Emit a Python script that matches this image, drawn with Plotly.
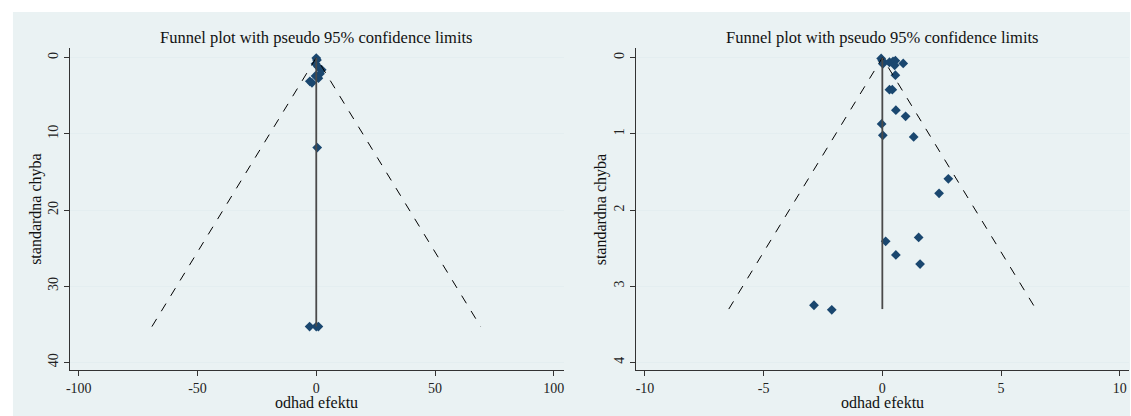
import plotly.graph_objects as go

# ---- data ----
left_effect = [0.0, 0.3, -0.3, 0.8, 2.3, 1.6, 0.9, -0.3, -2.7, -1.8, 0.4, -2.8, 0.0, 0.9]
left_se = [0.05, 0.3, 0.8, 1.2, 1.6, 2.1, 2.7, 2.4, 3.1, 3.3, 11.8, 35.3, 35.3, 35.3]
left_pooled = 0.0
left_se_max = 35.3

right_effect = [-0.05, 0.0, 0.02, 0.3, 0.45, 0.55, 0.52, 0.88, 0.55, 0.3, 0.42, 0.57,
                0.98, -0.03, 0.02, 1.32, 2.78, 2.39, 0.14, 1.53, 0.57, 1.59, -2.88, -2.13]
right_se = [0.01, 0.04, 0.08, 0.06, 0.05, 0.04, 0.1, 0.075, 0.23, 0.42, 0.42, 0.69,
            0.77, 0.87, 1.02, 1.04, 1.59, 1.78, 2.41, 2.36, 2.59, 2.71, 3.25, 3.31]
right_pooled = 0.0
right_se_max = 3.3

left_xticks = [-100, -50, 0, 50, 100]
left_xticklabels = ["-100", "-50", "0", "50", "100"]
left_yticks = [0, 10, 20, 30, 40]
right_xticks = [-10, -5, 0, 5, 10]
right_xticklabels = ["-10", "-5", "0", "5", "10"]
right_yticks = [0, 1, 2, 3, 4]

title_text = "Funnel plot with pseudo 95% confidence limits"
x_title = "odhad efektu"
y_title = "standardna chyba"

W, H = 1131, 416
MARK = "#1a476f"
BG = "#eaf2f3"
FONT = "Liberation Serif"

fig = go.Figure()

def add_panel(xa, ya, eff, se, pooled, semax):
    z = 1.96 * semax
    fig.add_trace(go.Scatter(x=eff, y=se, mode="markers", xaxis=xa, yaxis=ya,
                             marker=dict(symbol="diamond", size=7.5, color=MARK,
                                         line=dict(width=0)), showlegend=False))
    fig.add_trace(go.Scatter(x=[pooled - z, pooled, pooled + z], y=[semax, 0, semax],
                             mode="lines", xaxis=xa, yaxis=ya,
                             line=dict(color="black", width=1, dash="dash"), showlegend=False))
    fig.add_trace(go.Scatter(x=[pooled, pooled], y=[0, semax], mode="lines",
                             xaxis=xa, yaxis=ya,
                             line=dict(color="#4a4a4a", width=1.8), showlegend=False))

add_panel("x", "y", left_effect, left_se, left_pooled, left_se_max)
add_panel("x2", "y2", right_effect, right_se, right_pooled, right_se_max)

def px_x(p):
    return p / W

def px_y(p):
    return 1 - p / H

ydom = [px_y(370), px_y(48)]
xdom1 = [px_x(66), px_x(562)]
xdom2 = [px_x(634.5), px_x(1129.5)]

axis_common = dict(showline=True, linecolor="#333333", linewidth=1, ticks="outside",
                   ticklen=5, tickcolor="#333333", zeroline=False,
                   tickfont=dict(family=FONT, size=14, color="#222222"))

fig.update_layout(
    width=W, height=H, margin=dict(l=0, r=0, t=0, b=0),
    paper_bgcolor="white", plot_bgcolor="white",
    xaxis=dict(domain=xdom1, range=[-103.8, 104.1], tickvals=left_xticks,
               ticktext=left_xticklabels, showgrid=False, anchor="y", **axis_common),
    yaxis=dict(domain=ydom, range=[41.0, -1.27], tickvals=left_yticks, tickangle=-90,
               showgrid=True, gridcolor="#e4eef0", gridwidth=1, anchor="x", **axis_common),
    xaxis2=dict(domain=xdom2, range=[-10.39, 10.37], tickvals=right_xticks,
                ticktext=right_xticklabels, showgrid=False, anchor="y2", **axis_common),
    yaxis2=dict(domain=ydom, range=[4.10, -0.127], tickvals=right_yticks, tickangle=-90,
                showgrid=True, gridcolor="#e4eef0", gridwidth=1, anchor="x2", **axis_common),
    shapes=[dict(type="rect", xref="paper", yref="paper", x0=px_x(9), x1=1,
                 y0=0, y1=px_y(12), fillcolor=BG, line=dict(width=0), layer="below")],
)

for cx, cy_ax in [((xdom1[0] + xdom1[1]) / 2, px_x(32)), ((xdom2[0] + xdom2[1]) / 2, px_x(600))]:
    fig.add_annotation(text=title_text, xref="paper", yref="paper", x=cx, y=px_y(37),
                       showarrow=False, font=dict(family=FONT, size=16.5, color="#111111"),
                       xanchor="center", yanchor="middle")
    fig.add_annotation(text=x_title, xref="paper", yref="paper", x=cx, y=px_y(402),
                       showarrow=False, font=dict(family=FONT, size=16, color="#111111"),
                       xanchor="center", yanchor="middle")
    fig.add_annotation(text=y_title, xref="paper", yref="paper", x=cy_ax,
                       y=(ydom[0] + ydom[1]) / 2, textangle=-90,
                       showarrow=False, font=dict(family=FONT, size=16, color="#111111"),
                       xanchor="center", yanchor="middle")

fig.write_html("out.html", config={"displayModeBar": False},
               post_script="document.body.style.margin='0';document.body.style.overflow='hidden';")
